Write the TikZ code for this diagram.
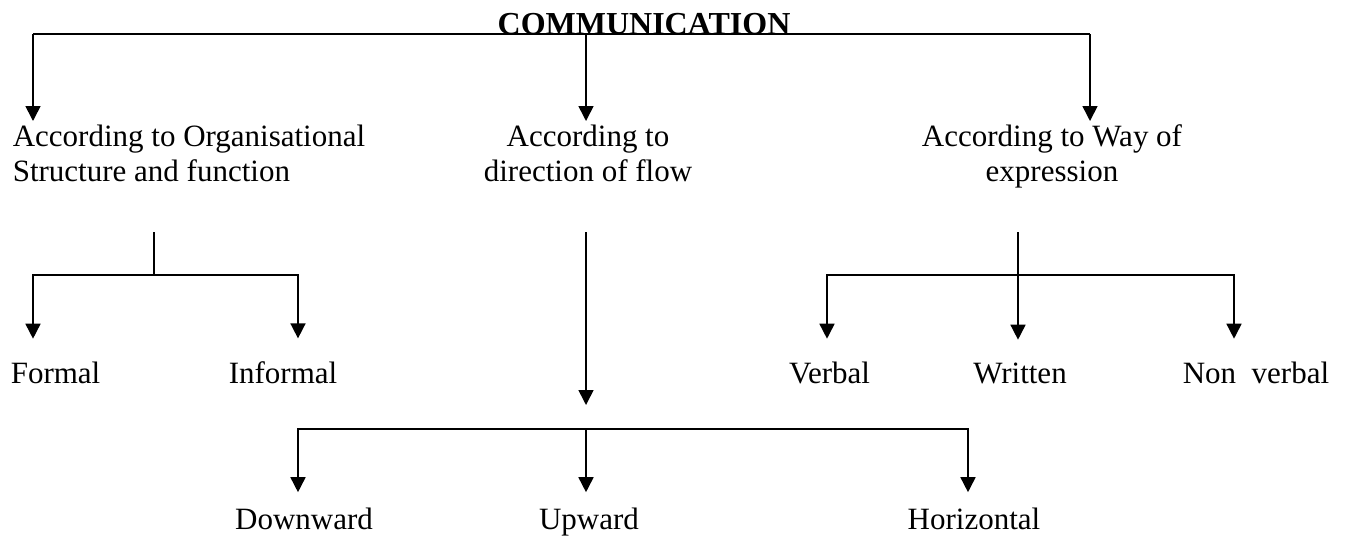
\documentclass[tikz,border=0pt]{standalone}
\usepackage{fontspec}
\setmainfont{Liberation Serif}
\usetikzlibrary{arrows.meta}
\begin{document}
\begin{tikzpicture}[x=0.5pt,y=-0.5pt,line width=0.8pt,
  arr/.style={-{Triangle[width=7.5pt,length=7.5pt]}},
  cat/.style={inner xsep=0pt,inner ysep=1.5pt,font=\fontsize{15.5}{17.5}\selectfont},
  leaf/.style={inner xsep=0pt,inner ysep=11pt,font=\fontsize{15.5}{17.5}\selectfont}]
  \useasboundingbox (0,0) rectangle (1347,537);
% heading
  \node[anchor=base,inner sep=0pt,font=\fontsize{16}{18}\selectfont\bfseries] (comm) at (644,34) {COMMUNICATION};
% first level
  \node[cat,anchor=north west,align=left] (org) at (12,121) {According to Organisational\\Structure and function};
  \node[cat,anchor=north,align=center] (flow) at (588,121) {According to\\direction of flow};
  \node[cat,anchor=north,align=center] (way) at (1052,121) {According to Way of\\expression};
  \coordinate (tl) at (33,34);
  \coordinate (tr) at (1090,34);
  \draw (tl) -- (tr);
  \draw[arr] (tl) -- (tl |- org.north);
  \draw[arr] (586,0 |- tl) -- (586,0 |- flow.north);
  \draw[arr] (tr) -- (tr |- way.north);
% organisational structure
  \node[leaf,anchor=base west] (formal) at (10,383) {Formal};
  \node[leaf,anchor=base west] (informal) at (228,383) {Informal};
  \coordinate (orgstem) at (154,232);
  \coordinate (orgbus) at (154,275);
  \draw (orgstem) -- (orgbus);
  \draw[arr] (orgbus) -| (33,0 |- formal.north);
  \draw[arr] (orgbus) -| (298,0 |- informal.north);
% direction of flow
  \node[leaf,inner ysep=7.25pt,anchor=base] (down) at (304,529) {Downward};
  \node[leaf,inner ysep=7.25pt,anchor=base] (up) at (589,529) {Upward};
  \node[leaf,inner ysep=7.25pt,anchor=base] (horiz) at (974,529) {Horizontal};
  \coordinate (flowstem) at (586,232);
  \coordinate (flowbus) at (586,429);
  \draw[arr] (flowstem) -- ([yshift=12pt]flowbus);
  \draw[arr] (flowbus) -| (298,0 |- down.north);
  \draw[arr] (flowbus) -- (flowbus |- up.north);
  \draw[arr] (flowbus) -| (968,0 |- horiz.north);
% way of expression
  \node[leaf,anchor=base] (verbal) at (829.5,383) {Verbal};
  \node[leaf,anchor=base] (written) at (1020,383) {Written};
  \node[leaf,anchor=base] (nonverbal) at (1256,383) {Non~~verbal};
  \coordinate (waystem) at (1018,232);
  \coordinate (waybus) at (1018,275);
  \draw[arr] (waystem) -- (waystem |- written.north);
  \draw[arr] (waybus) -| (827,0 |- verbal.north);
  \draw[arr] (waybus) -| (1234,0 |- nonverbal.north);
\end{tikzpicture}
\end{document}
